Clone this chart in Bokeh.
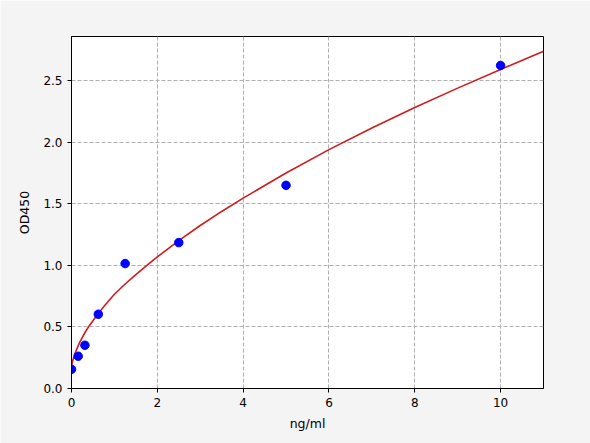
from bokeh.plotting import figure
from bokeh.models import FixedTicker, Range1d
from bokeh.embed import file_html
from bokeh.resources import INLINE

# measured standards
conc = [0.0, 0.156, 0.3125, 0.625, 1.25, 2.5, 5.0, 10.0]
od = [0.156, 0.262, 0.351, 0.603, 1.014, 1.184, 1.649, 2.622]

# fitted curve
curve_x = [0.0, 0.01, 0.02, 0.035, 0.05, 0.075, 0.1, 0.15, 0.2, 0.275, 0.35, 0.425, 0.5,
           0.625, 0.75, 0.875, 1.0, 1.25, 1.5, 1.75, 2.0, 2.5, 3.0, 3.5,
           4.0, 5.0, 6.0, 7.0, 8.0, 9.0, 10.0, 11.0]
curve_y = [0.175, 0.196, 0.213, 0.233, 0.25, 0.276, 0.30, 0.342, 0.38, 0.43, 0.475, 0.514, 0.55,
           0.608, 0.663, 0.715, 0.765, 0.848, 0.925, 0.998, 1.068, 1.20, 1.323, 1.437,
           1.545, 1.749, 1.939, 2.114, 2.28, 2.438, 2.59, 2.737]

x_ticks = [0, 2, 4, 6, 8, 10]
x_tick_labels = ["0", "2", "4", "6", "8", "10"]
y_ticks = [0.0, 0.5, 1.0, 1.5, 2.0, 2.5]
y_tick_labels = ["0.0", "0.5", "1.0", "1.5", "2.0", "2.5"]

FONT = "DejaVu Sans"
BG = "#f4f4f4"

p = figure(width=590, height=443, output_backend="svg", toolbar_location=None,
           x_range=Range1d(0, 11), y_range=Range1d(0, 2.857),
           min_border_left=71, min_border_right=47, min_border_top=36, min_border_bottom=55)
p.background_fill_color = "white"
p.border_fill_color = BG
p.outline_line_color = "black"
p.outline_line_width = 1

p.line(curve_x, curve_y, line_color="#d01c1c", line_width=1.6)
p.scatter(conc, od, size=8.5, fill_color="#0000ff", line_color="#0000ff")

for ax in (p.xaxis[0], p.yaxis[0]):
    ax.major_tick_in = 0
    ax.major_tick_out = 4
    ax.minor_tick_line_color = None
    ax.axis_line_color = "black"
    ax.major_tick_line_color = "black"
    ax.major_label_text_font = FONT
    ax.major_label_text_font_size = "12px"
    ax.major_label_text_color = "black"
    ax.axis_label_text_font = FONT
    ax.axis_label_text_font_size = "12.5px"
    ax.axis_label_text_font_style = "normal"
    ax.axis_label_text_color = "black"

p.xaxis[0].ticker = FixedTicker(ticks=x_ticks)
p.xaxis[0].major_label_overrides = {t: l for t, l in zip(x_ticks, x_tick_labels)}
p.yaxis[0].ticker = FixedTicker(ticks=y_ticks)
p.yaxis[0].major_label_overrides = {t: l for t, l in zip(y_ticks, y_tick_labels)}
p.xaxis[0].axis_label = "ng/ml"
p.yaxis[0].axis_label = "OD450"
p.xaxis[0].axis_label_standoff = 6
p.yaxis[0].axis_label_standoff = 8

for g in (p.xgrid[0], p.ygrid[0]):
    g.grid_line_color = "#b0b0b0"
    g.grid_line_dash = "4 2"
    g.grid_line_width = 1

open("out.html", "w").write(file_html(p, INLINE))
